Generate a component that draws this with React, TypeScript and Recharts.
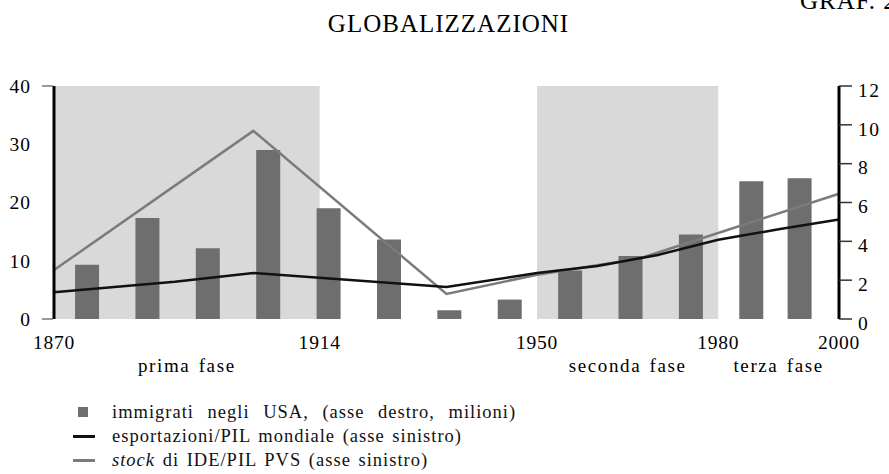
import {
  ComposedChart,
  Bar,
  Line,
  XAxis,
  YAxis,
  ReferenceArea,
} from "recharts";

/* ── Dati ── */
// immigrati negli USA per decennio (milioni, asse destro)
const barYears = [1875.5, 1885.5, 1895.5, 1905.5, 1915.5, 1925.5, 1935.5, 1945.5, 1955.5, 1965.5, 1975.5, 1985.5, 1993.5];
const immigrati = [2.8, 5.2, 3.65, 8.7, 5.7, 4.1, 0.45, 1.0, 2.5, 3.25, 4.35, 7.1, 7.25];

// esportazioni/PIL mondiale (asse sinistro)
const exportYears = [1870, 1890, 1903, 1935, 1950, 1960, 1970, 1980, 1990, 2000];
const exportValues = [4.6, 6.4, 7.9, 5.5, 7.9, 9.1, 11.0, 13.6, 15.4, 17.1];

// stock di IDE/PIL PVS (asse sinistro)
const fdiYears = [1870, 1903, 1935, 1950, 1967, 2000];
const fdiValues = [8.4, 32.3, 4.3, 7.6, 10.4, 21.5];

const yearTicks = [1870, 1914, 1950, 1980, 2000];
const phaseNames = ["prima fase", "seconda fase", "terza fase"];
const phaseCenters = [1892, 1965, 1990];
const bandStarts = [1870, 1950];
const bandEnds = [1914, 1980];
const leftTicks = [0, 10, 20, 30, 40];
const rightTicks = [0, 2, 4, 6, 8, 10, 12];

const FONT = '"Liberation Serif", "Times New Roman", serif';
const BAR = "#6e6e6e";
const GRAY = "#7b7b7b";
const BAND = "#d9d9d9";

const LeftTick = (props: any) => {
  const { x, y, payload, index, visibleTicksCount } = props;
  const edge = index === 0 || index === visibleTicksCount - 1;
  return (
    <g>
      {edge && (
        <line x1={x + 11} x2={x + 22} y1={y} y2={y} stroke="#777" strokeWidth={1.5} />
      )}
      <text
        x={x}
        y={y}
        dy="0.35em"
        textAnchor="end"
        fill="#000"
        fontSize={19.5}
        fontFamily={FONT}
        letterSpacing={1}
      >
        {payload.value}
      </text>
    </g>
  );
};

// etichette dell'asse destro, un po' più in basso delle tacche
const RightTick = (props: any) => {
  const { x, y, payload } = props;
  return (
    <text
      x={x}
      y={y + 4}
      dy="0.35em"
      textAnchor="start"
      fill="#000"
      fontSize={19.5}
      fontFamily={FONT}
      letterSpacing={1.5}
    >
      {payload.value}
    </text>
  );
};

export default function App() {
  const barData = barYears.map((year, i) => ({ year, immigrati: immigrati[i] }));
  const exportData = exportYears.map((year, i) => ({ year, value: exportValues[i] }));
  const fdiData = fdiYears.map((year, i) => ({ year, value: fdiValues[i] }));

  const legendRowStyle = {
    position: "absolute" as const,
    left: 112,
    fontSize: 18.5,
    lineHeight: "24px",
    letterSpacing: 1.0,
    wordSpacing: 2,
    whiteSpace: "nowrap" as const,
    color: "#111",
  };

  return (
    <div
      style={{
        position: "absolute",
        left: 0,
        top: 0,
        width: 889,
        height: 474,
        overflow: "hidden",
        background: "#fff",
        fontFamily: FONT,
      }}
    >
      <div
        style={{
          position: "absolute",
          left: 800,
          top: -12,
          fontSize: 25,
          lineHeight: "25px",
          letterSpacing: 1,
          whiteSpace: "nowrap",
        }}
      >
        GRAF. 2
      </div>
      <div
        style={{
          position: "absolute",
          left: 4,
          top: 11,
          width: 889,
          textAlign: "center",
          fontSize: 25,
          lineHeight: "25px",
          letterSpacing: 1,
        }}
      >
        GLOBALIZZAZIONI
      </div>

      <div style={{ position: "absolute", left: 0, top: 0 }}>
        <ComposedChart
          width={889}
          height={390}
          data={barData}
          margin={{ top: 86, right: 0, bottom: 11, left: 0 }}
        >
          {bandStarts.map((s, i) => (
            <ReferenceArea
              key={s}
              yAxisId="left"
              x1={s}
              x2={bandEnds[i]}
              y1={0}
              y2={40}
              fill={BAND}
              fillOpacity={1}
              stroke="none"
              ifOverflow="visible"
            />
          ))}
          <XAxis
            dataKey="year"
            type="number"
            domain={[1870, 2000]}
            ticks={yearTicks}
            interval={0}
            axisLine={false}
            tickLine={false}
            tickSize={0}
            tickMargin={16}
            height={30}
            tick={{ fill: "#000", fontSize: 19.5, fontFamily: FONT, letterSpacing: 0.8 }}
          />
          <XAxis
            xAxisId="phase"
            dataKey="year"
            type="number"
            domain={[1870, 2000]}
            ticks={phaseCenters}
            interval={0}
            tickFormatter={(v: number) => phaseNames[phaseCenters.indexOf(v)]}
            axisLine={false}
            tickLine={false}
            tickSize={0}
            tickMargin={10}
            height={30}
            tick={{ fill: "#000", fontSize: 19, fontFamily: FONT, letterSpacing: 1.6, wordSpacing: 2 }}
          />
          <XAxis
            xAxisId="bars"
            dataKey="year"
            type="number"
            domain={[1870, 2000]}
            orientation="top"
            height={0}
            hide
          />
          <YAxis
            yAxisId="left"
            domain={[0, 40]}
            ticks={leftTicks}
            interval={0}
            width={54}
            axisLine={{ stroke: "#000", strokeWidth: 3 }}
            tickLine={false}
            tickSize={12}
            tickMargin={11}
            tick={<LeftTick />}
          />
          <YAxis
            yAxisId="right"
            orientation="right"
            domain={[0, 12]}
            ticks={rightTicks}
            interval={0}
            width={50}
            axisLine={{ stroke: "#000", strokeWidth: 3 }}
            tickLine={{ stroke: "#333", strokeWidth: 1.5 }}
            tickSize={13}
            tickMargin={6}
            tick={<RightTick />}
          />
          <Bar
            xAxisId="bars"
            yAxisId="right"
            dataKey="immigrati"
            fill={BAR}
            barSize={24}
            isAnimationActive={false}
          />
          <Line
            yAxisId="left"
            data={fdiData}
            dataKey="value"
            type="linear"
            stroke={GRAY}
            strokeWidth={2.5}
            dot={false}
            isAnimationActive={false}
          />
          <Line
            yAxisId="left"
            data={exportData}
            dataKey="value"
            type="linear"
            stroke="#111"
            strokeWidth={2.5}
            dot={false}
            isAnimationActive={false}
          />
        </ComposedChart>
      </div>

      {/* ── Legenda ── */}
      <div style={{ position: "absolute", left: 78, top: 407, width: 10, height: 10, background: BAR }} />
      <div style={{ ...legendRowStyle, top: 400, wordSpacing: 8 }}>
        immigrati negli USA, (asse destro, milioni)
      </div>
      <div style={{ position: "absolute", left: 73, top: 435, width: 22, height: 2.5, background: "#111" }} />
      <div style={{ ...legendRowStyle, top: 424 }}>esportazioni/PIL mondiale (asse sinistro)</div>
      <div style={{ position: "absolute", left: 73, top: 459, width: 22, height: 2.5, background: GRAY }} />
      <div style={{ ...legendRowStyle, top: 448 }}>
        <em>stock</em> di IDE/PIL PVS (asse sinistro)
      </div>
    </div>
  );
}
